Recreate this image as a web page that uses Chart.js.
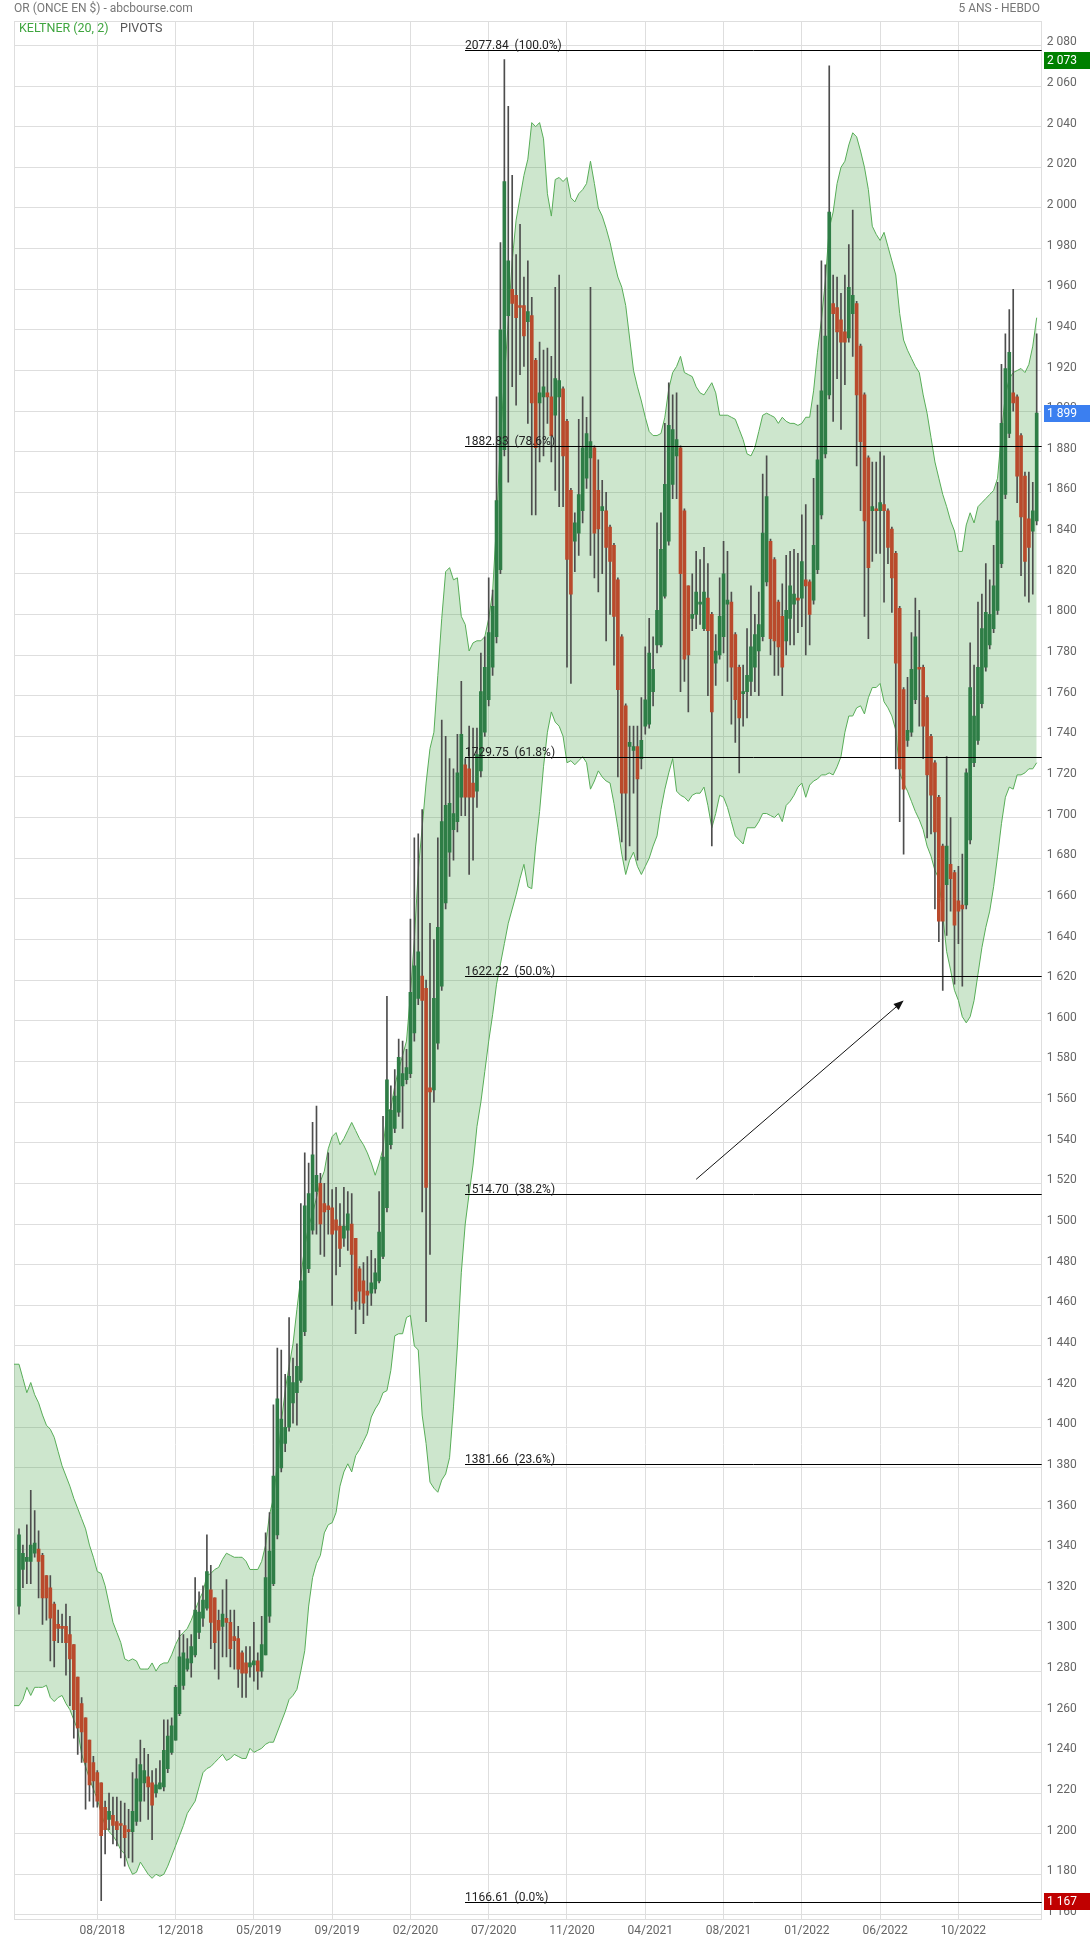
<!DOCTYPE html>
<html>
<head>
<meta charset="utf-8">
<script src="https://cdn.jsdelivr.net/npm/chart.js@4.4.0/dist/chart.umd.min.js"></script>
<style>
  html, body { margin: 0; padding: 0; background: #fff; }
  canvas { display: block; }
</style>
</head>
<body>
<canvas id="chart" width="1090" height="1942"></canvas>
<script>
// ***** data (weekly candles, index 0 = week of 19/03/2018) *****
const xTickWeeks = [20, 40, 60, 80, 100, 120, 140, 160, 180, 200, 220, 240]
const xTickLabels = ['08/2018', '12/2018', '05/2019', '09/2019', '02/2020', '07/2020',
  '11/2020', '04/2021', '08/2021', '01/2022', '06/2022', '10/2022']

const open = [
  1312,1330,1334,1334,1338,1340,1337,1327,1321,1313, 1303,1302,1302,1298,1293,1277,1264,1257,1246,1235,
  1230,1225,1213,1207,1209,1206,1205,1204,1202,1201, 1206,1216,1225,1228,1225,1220,1222,1223,1232,1240,
  1246,1259,1273,1281,1284,1288,1299,1306,1311,1320, 1316,1305,1302,1306,1304,1297,1296,1289,1284,1282,
  1283,1285,1280,1288,1307,1323,1347,1380,1392,1400, 1412,1417,1423,1447,1478,1497,1516,1520,1510,1509,
  1508,1502,1499,1493,1497,1500,1493,1478,1472,1467, 1466,1468,1472,1484,1508,1539,1547,1555,1568,1571,
  1574,1594,1611,1622,1616,1567,1566,1589,1617,1658, 1683,1694,1698,1710,1726,1724,1717,1713,1723,1742,
  1758,1774,1789,1822,1881,1947,1960,1957,1952,1952, 1944,1947,1925,1904,1907,1909,1907,1898,1907,1911,
  1895,1861,1836,1840,1851,1867,1877,1882,1861,1851, 1851,1843,1834,1817,1789,1755,1735,1733,1735,1729,
  1745,1746,1762,1785,1785,1809,1836,1864,1878,1882, 1851,1814,1798,1800,1805,1793,1808,1800,1776,1780,
  1789,1805,1806,1790,1774,1761,1762,1767,1774,1782, 1789,1816,1836,1827,1806,1799,1787,1798,1805,1808,
  1808,1817,1816,1807,1822,1849,1879,1908,1953,1951, 1945,1939,1936,1948,1953,1932,1908,1877,1851,1852,
  1851,1854,1851,1842,1830,1803,1763,1738,1742,1758, 1774,1774,1759,1740,1727,1710,1686,1667,1677,1673,
  1659,1657,1657,1689,1727,1738,1756,1774,1785,1793, 1802,1825,1859,1889,1909,1907,1888,1868,1847,1841,
  1846
]
const high = [
  1350,1342,1352,1369,1359,1349,1338,1327,1327,1314, 1310,1308,1313,1307,1293,1277,1267,1257,1246,1238,
  1231,1225,1216,1220,1218,1218,1216,1215,1212,1230, 1237,1246,1242,1239,1231,1232,1236,1256,1256,1257,
  1273,1300,1298,1296,1298,1326,1319,1322,1347,1332, 1316,1310,1320,1325,1310,1310,1302,1290,1292,1292,
  1304,1289,1307,1348,1358,1411,1439,1438,1426,1454, 1434,1441,1510,1535,1530,1550,1558,1525,1520,1535,
  1517,1518,1510,1518,1516,1515,1493,1479,1481,1484, 1487,1483,1516,1553,1612,1568,1576,1591,1590,1586,
  1650,1690,1692,1704,1620,1648,1640,1690,1748,1740, 1729,1724,1741,1767,1729,1745,1744,1744,1781,1789,
  1818,1812,1907,1983,2073,2050,2016,1977,1992,1966, 1974,1956,1926,1934,1930,1931,1927,1961,1967,1912,
  1896,1862,1850,1896,1907,1897,1961,1883,1876,1866, 1860,1844,1835,1818,1790,1756,1745,1745,1745,1759,
  1784,1798,1789,1845,1850,1894,1914,1908,1909,1883, 1852,1814,1820,1831,1827,1833,1825,1801,1790,1818,
  1836,1831,1811,1791,1775,1775,1793,1814,1800,1811, 1869,1878,1837,1828,1807,1815,1829,1831,1832,1830,
  1849,1854,1817,1867,1903,1974,1972,2070,1967,1966, 1958,1967,1982,1999,1954,1933,1909,1878,1875,1875,
  1880,1878,1852,1843,1831,1804,1764,1769,1791,1808, 1802,1775,1760,1741,1728,1711,1687,1730,1700,1674,
  1676,1682,1724,1786,1775,1806,1810,1825,1817,1834, 1865,1923,1938,1950,1960,1908,1889,1870,1870,1865,
  1938
]
const low = [
  1308,1321,1323,1323,1336,1316,1303,1305,1285,1282, 1294,1294,1278,1263,1247,1239,1235,1212,1216,1213,
  1213,1167,1190,1202,1195,1194,1188,1184,1188,1186, 1204,1206,1216,1207,1197,1218,1222,1221,1230,1239,
  1246,1258,1271,1280,1277,1287,1296,1302,1310,1291, 1281,1276,1287,1287,1282,1281,1272,1267,1267,1277,
  1275,1271,1277,1288,1304,1322,1345,1378,1388,1398, 1402,1401,1422,1445,1476,1495,1495,1485,1484,1495,
  1460,1475,1479,1489,1487,1458,1446,1458,1451,1455, 1460,1466,1471,1483,1506,1537,1545,1553,1547,1569,
  1572,1590,1608,1506,1452,1485,1560,1586,1615,1655, 1671,1679,1693,1701,1701,1672,1679,1705,1720,1740,
  1755,1770,1786,1820,1878,1865,1912,1903,1918,1922, 1894,1849,1849,1875,1878,1894,1875,1861,1853,1853,
  1774,1766,1821,1829,1845,1862,1829,1818,1811,1820, 1787,1800,1775,1720,1688,1679,1686,1712,1679,1724,
  1741,1744,1755,1781,1784,1808,1834,1857,1857,1762, 1767,1752,1792,1793,1795,1792,1760,1686,1765,1778,
  1781,1767,1746,1737,1722,1745,1749,1760,1762,1760, 1787,1814,1780,1770,1770,1760,1780,1785,1785,1791,
  1794,1780,1785,1805,1820,1847,1877,1906,1895,1916, 1891,1913,1934,1927,1873,1851,1799,1788,1826,1830,
  1830,1806,1825,1801,1724,1698,1682,1735,1740,1756, 1745,1729,1690,1692,1655,1639,1615,1642,1654,1618,
  1638,1617,1655,1687,1725,1736,1754,1772,1783,1791, 1800,1823,1857,1887,1900,1855,1819,1809,1806,1810,
  1844
]
const close = [
  1347,1338,1336,1342,1343,1334,1316,1316,1306,1295, 1301,1301,1294,1286,1261,1252,1250,1235,1224,1226,
  1216,1199,1202,1211,1204,1202,1204,1198,1201,1211, 1227,1234,1231,1223,1214,1224,1225,1241,1248,1253,
  1272,1287,1289,1286,1292,1310,1309,1315,1329,1304, 1294,1300,1308,1304,1291,1295,1281,1279,1279,1284,
  1285,1280,1293,1326,1339,1376,1414,1404,1400,1425, 1422,1430,1472,1509,1515,1534,1524,1500,1506,1507,
  1495,1497,1488,1499,1505,1485,1462,1467,1461,1465, 1471,1476,1496,1533,1571,1556,1563,1582,1574,1577,
  1614,1627,1634,1610,1518,1565,1611,1646,1698,1706, 1707,1702,1722,1741,1710,1710,1710,1731,1762,1774,
  1791,1804,1856,1940,2013,1974,1953,1946,1951,1937, 1949,1904,1882,1909,1912,1907,1888,1916,1915,1878,
  1827,1810,1845,1859,1882,1889,1885,1840,1842,1853, 1833,1826,1799,1763,1712,1712,1737,1735,1719,1738,
  1758,1781,1773,1802,1832,1864,1893,1891,1886,1820, 1778,1780,1800,1811,1806,1811,1792,1752,1782,1799,
  1820,1807,1774,1758,1749,1762,1770,1784,1790,1795, 1840,1858,1788,1787,1784,1774,1802,1814,1810,1807,
  1826,1814,1800,1834,1876,1910,1937,1998,1948,1939, 1934,1934,1961,1957,1908,1885,1846,1823,1853,1851,
  1855,1851,1833,1818,1776,1724,1714,1743,1773,1789, 1773,1745,1721,1711,1693,1649,1649,1686,1670,1647,
  1654,1655,1722,1764,1750,1774,1793,1801,1800,1814, 1846,1894,1921,1929,1904,1868,1848,1826,1833,1851,
  1899
]
// Keltner (20, 2) band
const keltnerUpper = [
  1431,1424,1417,1422,1416,1412,1406,1401,1399,1395, 1388,1381,1376,1371,1365,1360,1355,1350,1342,1336,
  1329,1328,1322,1313,1304,1299,1294,1286,1285,1286, 1285,1281,1281,1281,1284,1280,1283,1284,1284,1288,
  1293,1297,1299,1301,1305,1310,1315,1319,1327,1328, 1330,1331,1335,1338,1337,1336,1336,1336,1334,1330,
  1330,1330,1334,1342,1357,1365,1382,1402,1418,1430, 1441,1458,1474,1489,1499,1505,1513,1521,1526,1537,
  1543,1545,1539,1542,1546,1550,1546,1542,1539,1535, 1530,1524,1530,1537,1555,1557,1568,1576,1583,1590,
  1613,1640,1674,1695,1717,1734,1742,1770,1798,1821, 1823,1817,1818,1799,1795,1782,1786,1787,1787,1789,
  1798,1811,1845,1886,1916,1944,1974,1994,2005,2016, 2024,2042,2040,2042,2034,2007,1996,2014,2015,2013,
  2015,2005,2003,2007,2009,2012,2023,2012,2000,1996, 1990,1983,1974,1966,1961,1952,1936,1920,1912,1905,
  1897,1890,1888,1888,1889,1897,1911,1919,1922,1927, 1919,1918,1917,1912,1909,1908,1911,1914,1909,1898,
  1898,1898,1897,1896,1891,1886,1879,1878,1882,1890, 1898,1899,1898,1897,1894,1897,1895,1894,1894,1893,
  1894,1897,1897,1910,1929,1945,1964,1990,1998,2012, 2020,2023,2031,2037,2035,2028,2020,2009,1991,1987,
  1984,1988,1981,1974,1967,1948,1935,1930,1926,1922, 1919,1908,1899,1887,1875,1867,1859,1853,1846,1841,
  1831,1831,1844,1850,1845,1853,1855,1857,1859,1861, 1867,1889,1908,1916,1919,1920,1921,1919,1923,1932,
  1946
]
const keltnerLower = [
  1263,1266,1272,1268,1272,1272,1272,1273,1267,1265, 1267,1268,1264,1261,1256,1251,1239,1233,1227,1222,
  1217,1210,1204,1201,1199,1196,1192,1190,1184,1180, 1181,1186,1183,1180,1178,1180,1179,1180,1184,1189,
  1194,1199,1204,1210,1213,1216,1223,1230,1232,1233, 1235,1237,1239,1236,1237,1239,1238,1237,1237,1242,
  1240,1241,1242,1244,1245,1245,1250,1255,1260,1266, 1268,1271,1280,1290,1312,1326,1333,1337,1348,1352,
  1353,1358,1371,1378,1382,1378,1386,1389,1393,1397, 1405,1409,1412,1417,1418,1428,1445,1446,1446,1454,
  1455,1440,1438,1406,1392,1373,1370,1368,1374,1377, 1385,1410,1440,1476,1500,1515,1529,1548,1560,1575,
  1590,1603,1618,1628,1638,1648,1655,1662,1670,1677, 1666,1665,1686,1703,1725,1742,1752,1747,1745,1740,
  1727,1728,1726,1728,1730,1727,1714,1718,1723,1720, 1718,1717,1707,1695,1682,1672,1679,1683,1676,1672,
  1676,1680,1686,1691,1704,1714,1722,1729,1713,1711, 1710,1708,1711,1712,1712,1715,1706,1695,1702,1711,
  1710,1705,1698,1691,1689,1687,1695,1695,1695,1698, 1702,1702,1701,1700,1702,1698,1706,1708,1711,1715,
  1717,1710,1716,1718,1719,1721,1721,1722,1721,1725, 1730,1742,1750,1750,1754,1755,1751,1759,1764,1764,
  1766,1757,1754,1750,1743,1722,1717,1713,1708,1703, 1699,1694,1686,1681,1674,1670,1652,1634,1625,1615,
  1610,1602,1599,1602,1610,1623,1636,1646,1654,1666, 1681,1697,1710,1715,1714,1721,1721,1722,1724,1724,
  1727
]
// Fibonacci retracement levels (value, ratio) and the week they start from
const fibValues = [2077.84, 1882.83, 1729.75, 1622.22, 1514.70, 1381.66, 1166.61]
const fibRatios = ['100.0%', '78.6%', '61.8%', '50.0%', '38.2%', '23.6%', '0.0%']
const fibFrom = 114
// annotation arrow: [week, price] from -> to
const arrowFrom = [173, 1522]
const arrowTo = [226, 1610]

// ***** helpers *****
const green = '#2e7d46'
const red = '#b94a2c'
const fmt = v => {
  const s = String(Math.round(v))
  return s.length > 3 ? s.slice(0, -3) + ' ' + s.slice(-3) : s
}
const idx = open.map((_, i) => i)
const xMin = -1.28
const xMax = 261.28

// ***** overlay: fib lines, arrow, price badges, headers *****
const overlay = {
  id: 'overlay',
  beforeDatasetsDraw(chart) {
    const { ctx, chartArea: a } = chart
    ctx.save()
    ctx.strokeStyle = '#dedede'
    ctx.lineWidth = 1
    ctx.strokeRect(Math.round(a.left) + 0.5, Math.round(a.top) + 0.5,
      Math.round(a.right - a.left) - 1, Math.round(a.bottom - a.top))
    ctx.restore()
  },
  afterDraw(chart) {
    const { ctx, chartArea: a, scales: { x, y } } = chart
    ctx.save()

    // fib levels
    const fx = Math.round(x.getPixelForValue(fibFrom))
    ctx.font = '12px Roboto'
    ctx.textAlign = 'left'
    ctx.textBaseline = 'alphabetic'
    fibValues.forEach((v, k) => {
      const py = Math.round(y.getPixelForValue(v)) + 0.5
      ctx.strokeStyle = '#000'
      ctx.lineWidth = 1
      ctx.beginPath()
      ctx.moveTo(fx, py)
      ctx.lineTo(a.right, py)
      ctx.stroke()
      ctx.fillStyle = '#222'
      ctx.fillText(v.toFixed(2) + '  (' + fibRatios[k] + ')', fx, py - 1.5)
    })

    // arrow
    const x0 = x.getPixelForValue(arrowFrom[0]), y0 = y.getPixelForValue(arrowFrom[1])
    const x1 = x.getPixelForValue(arrowTo[0]), y1 = y.getPixelForValue(arrowTo[1])
    const ang = Math.atan2(y1 - y0, x1 - x0)
    ctx.strokeStyle = '#111'
    ctx.fillStyle = '#111'
    ctx.lineWidth = 1
    ctx.beginPath()
    ctx.moveTo(x0, y0)
    ctx.lineTo(x1 - 6 * Math.cos(ang), y1 - 6 * Math.sin(ang))
    ctx.stroke()
    ctx.beginPath()
    ctx.moveTo(x1, y1)
    ctx.lineTo(x1 - 10 * Math.cos(ang) + 4 * Math.sin(ang), y1 - 10 * Math.sin(ang) - 4 * Math.cos(ang))
    ctx.lineTo(x1 - 10 * Math.cos(ang) - 4 * Math.sin(ang), y1 - 10 * Math.sin(ang) + 4 * Math.cos(ang))
    ctx.closePath()
    ctx.fill()

    // price badges
    const badges = [
      [Math.max(...high), '#008000'],
      [close[close.length - 1], '#3b7ff0'],
      [Math.min(...low), '#c00000']
    ]
    ctx.font = '12px Roboto'
    ctx.textBaseline = 'middle'
    badges.forEach(([v, col]) => {
      const py = y.getPixelForValue(v)
      ctx.fillStyle = col
      ctx.fillRect(Math.round(a.right) + 2, Math.round(py) - 8, 60, 17)
      ctx.fillStyle = '#fff'
      ctx.fillText(fmt(v), Math.round(a.right) + 5, Math.round(py) + 0.5)
    })

    // headers
    ctx.font = '12px Roboto'
    ctx.textBaseline = 'middle'
    ctx.fillStyle = '#777'
    ctx.textAlign = 'left'
    ctx.fillText('OR (ONCE EN $) - abcbourse.com', 14, 9)
    ctx.textAlign = 'right'
    ctx.fillText('5 ANS - HEBDO', 1040, 9)
    ctx.textAlign = 'left'
    ctx.font = '12.5px Roboto'
    ctx.fillStyle = '#3fa53f'
    ctx.fillText('KELTNER (20, 2)', 19, 29)
    ctx.fillStyle = '#555'
    ctx.fillText('PIVOTS', 120, 29)

    ctx.restore()
  }
}

// ***** The Chart init *****
const ctx = document.getElementById('chart').getContext('2d')
const chart = new Chart(ctx, {
  type: 'bar',
  data: {
    datasets: [
      {
        label: 'wicks',
        data: idx.map(i => ({ x: i, y: [low[i], high[i]] })),
        backgroundColor: '#4d4d4d',
        barThickness: 1,
        grouped: false,
        order: 2
      },
      {
        label: 'bodies',
        data: idx.map(i => ({ x: i, y: [open[i], close[i]] })),
        backgroundColor: c => close[c.dataIndex] >= open[c.dataIndex] ? green : red,
        barThickness: 3,
        minBarLength: 1,
        grouped: false,
        order: 1
      },
      {
        type: 'line',
        label: 'upper',
        data: [{ x: xMin, y: keltnerUpper[0] }].concat(idx.map(i => ({ x: i, y: keltnerUpper[i] }))),
        borderColor: '#58ad58',
        borderWidth: 1,
        pointRadius: 0,
        tension: 0,
        fill: false,
        order: 3
      },
      {
        type: 'line',
        label: 'lower',
        data: [{ x: xMin, y: keltnerLower[0] }].concat(idx.map(i => ({ x: i, y: keltnerLower[i] }))),
        borderColor: '#58ad58',
        borderWidth: 1,
        pointRadius: 0,
        tension: 0,
        fill: { target: '-1' },
        backgroundColor: 'rgba(60, 160, 60, 0.26)',
        order: 3
      }
    ]
  },
  options: {
    responsive: false,
    animation: false,
    layout: { padding: { left: 14, top: 21, right: 0, bottom: 0 } },
    plugins: { legend: { display: false }, tooltip: { enabled: false } },
    scales: {
      x: {
        type: 'linear',
        min: xMin,
        max: xMax,
        offset: false,
        grid: { color: '#dedede', drawTicks: false, offset: false },
        border: { display: false },
        afterBuildTicks: s => { s.ticks = xTickWeeks.map(v => ({ value: v })) },
        afterFit: s => { s.height = 23 },
        ticks: {
          autoSkip: false,
          maxRotation: 0,
          padding: 5,
          labelOffset: 5,
          color: '#666',
          font: { family: 'Roboto', size: 12 },
          callback: v => {
            const k = xTickWeeks.indexOf(v)
            return k >= 0 ? xTickLabels[k] : ''
          }
        }
      },
      y: {
        position: 'right',
        min: 1158,
        max: 2092,
        grid: { color: '#dedede', drawTicks: false },
        border: { display: false },
        afterFit: s => { s.width = 48.3 },
        ticks: {
          stepSize: 20,
          includeBounds: false,
          autoSkip: false,
          padding: 5,
          labelOffset: -3,
          color: '#666',
          font: { family: 'Roboto', size: 12 },
          callback: v => fmt(v)
        }
      }
    }
  },
  plugins: [overlay]
})
// ***** The chart end *****
</script>
</body>
</html>
